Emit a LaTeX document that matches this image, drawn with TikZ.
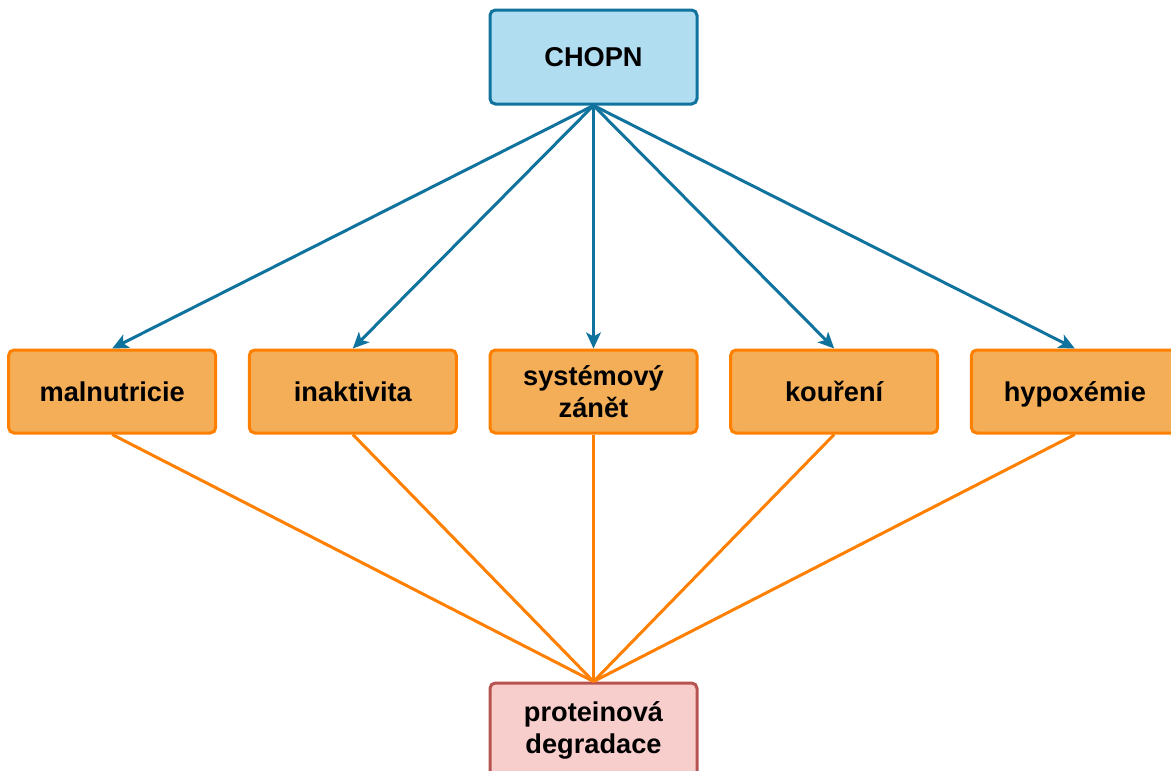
\documentclass[tikz,border=0pt]{standalone}
\usepackage{fontspec}
\setmainfont{Liberation Sans}
\usetikzlibrary{arrows.meta,positioning}
\definecolor{cpBlue}{HTML}{10739E}
\definecolor{cpBlueFill}{HTML}{B1DDF0}
\definecolor{cpOrange}{HTML}{FF8000}
\definecolor{cpOrangeFill}{HTML}{F4AE58}
\definecolor{cpRed}{HTML}{B85450}
\definecolor{cpRedFill}{HTML}{F8CECC}
\tikzset{
  cpnode/.style={
    draw, rounded corners=4pt, line width=2.25pt, minimum width=155.25pt,
    font=\fontsize{20.4}{24}\selectfont\bfseries, align=center, inner sep=2pt
  },
  oneline/.style={text height=15.5pt, text depth=0.5pt},
  disease/.style={cpnode, fill=cpBlueFill, draw=cpBlue, minimum height=70.5pt},
  factor/.style={cpnode, fill=cpOrangeFill, draw=cpOrange, minimum height=62.25pt},
  outcome/.style={cpnode, fill=cpRedFill, draw=cpRed, minimum height=70.5pt},
  cause/.style={-{Stealth[length=12pt, width=11pt, inset=3pt]}, line width=2.25pt, cpBlue},
  effect/.style={line width=2.25pt, cpOrange}
}

\begin{document}
\begin{tikzpicture}[x=0.75pt, y=-0.75pt, node distance=23pt]
  \useasboundingbox (0,0) rectangle (1171,771);
  \node[disease] (chopn) at (593.5,57) {CHOPN};
  % middle row
  \node[factor, below=182.25pt of chopn] (zanet) {systémový\\zánět};
  \node[factor, oneline, left=of zanet] (inakt) {inaktivita};
  \node[factor, oneline, left=of inakt] (malnut) {malnutricie};
  \node[factor, oneline, right=of zanet] (koureni) {kouření};
  \node[factor, oneline, right=of koureni] (hypox) {hypoxémie};
  \node[outcome, below=185.25pt of zanet] (degr) {proteinová\\degradace};
  \foreach \f in {malnut, inakt, zanet, koureni, hypox} {
    \draw[cause] (chopn.south) -- (\f.north);
    \draw[effect] (\f.south) -- (degr.north);
  }
\end{tikzpicture}
\end{document}
